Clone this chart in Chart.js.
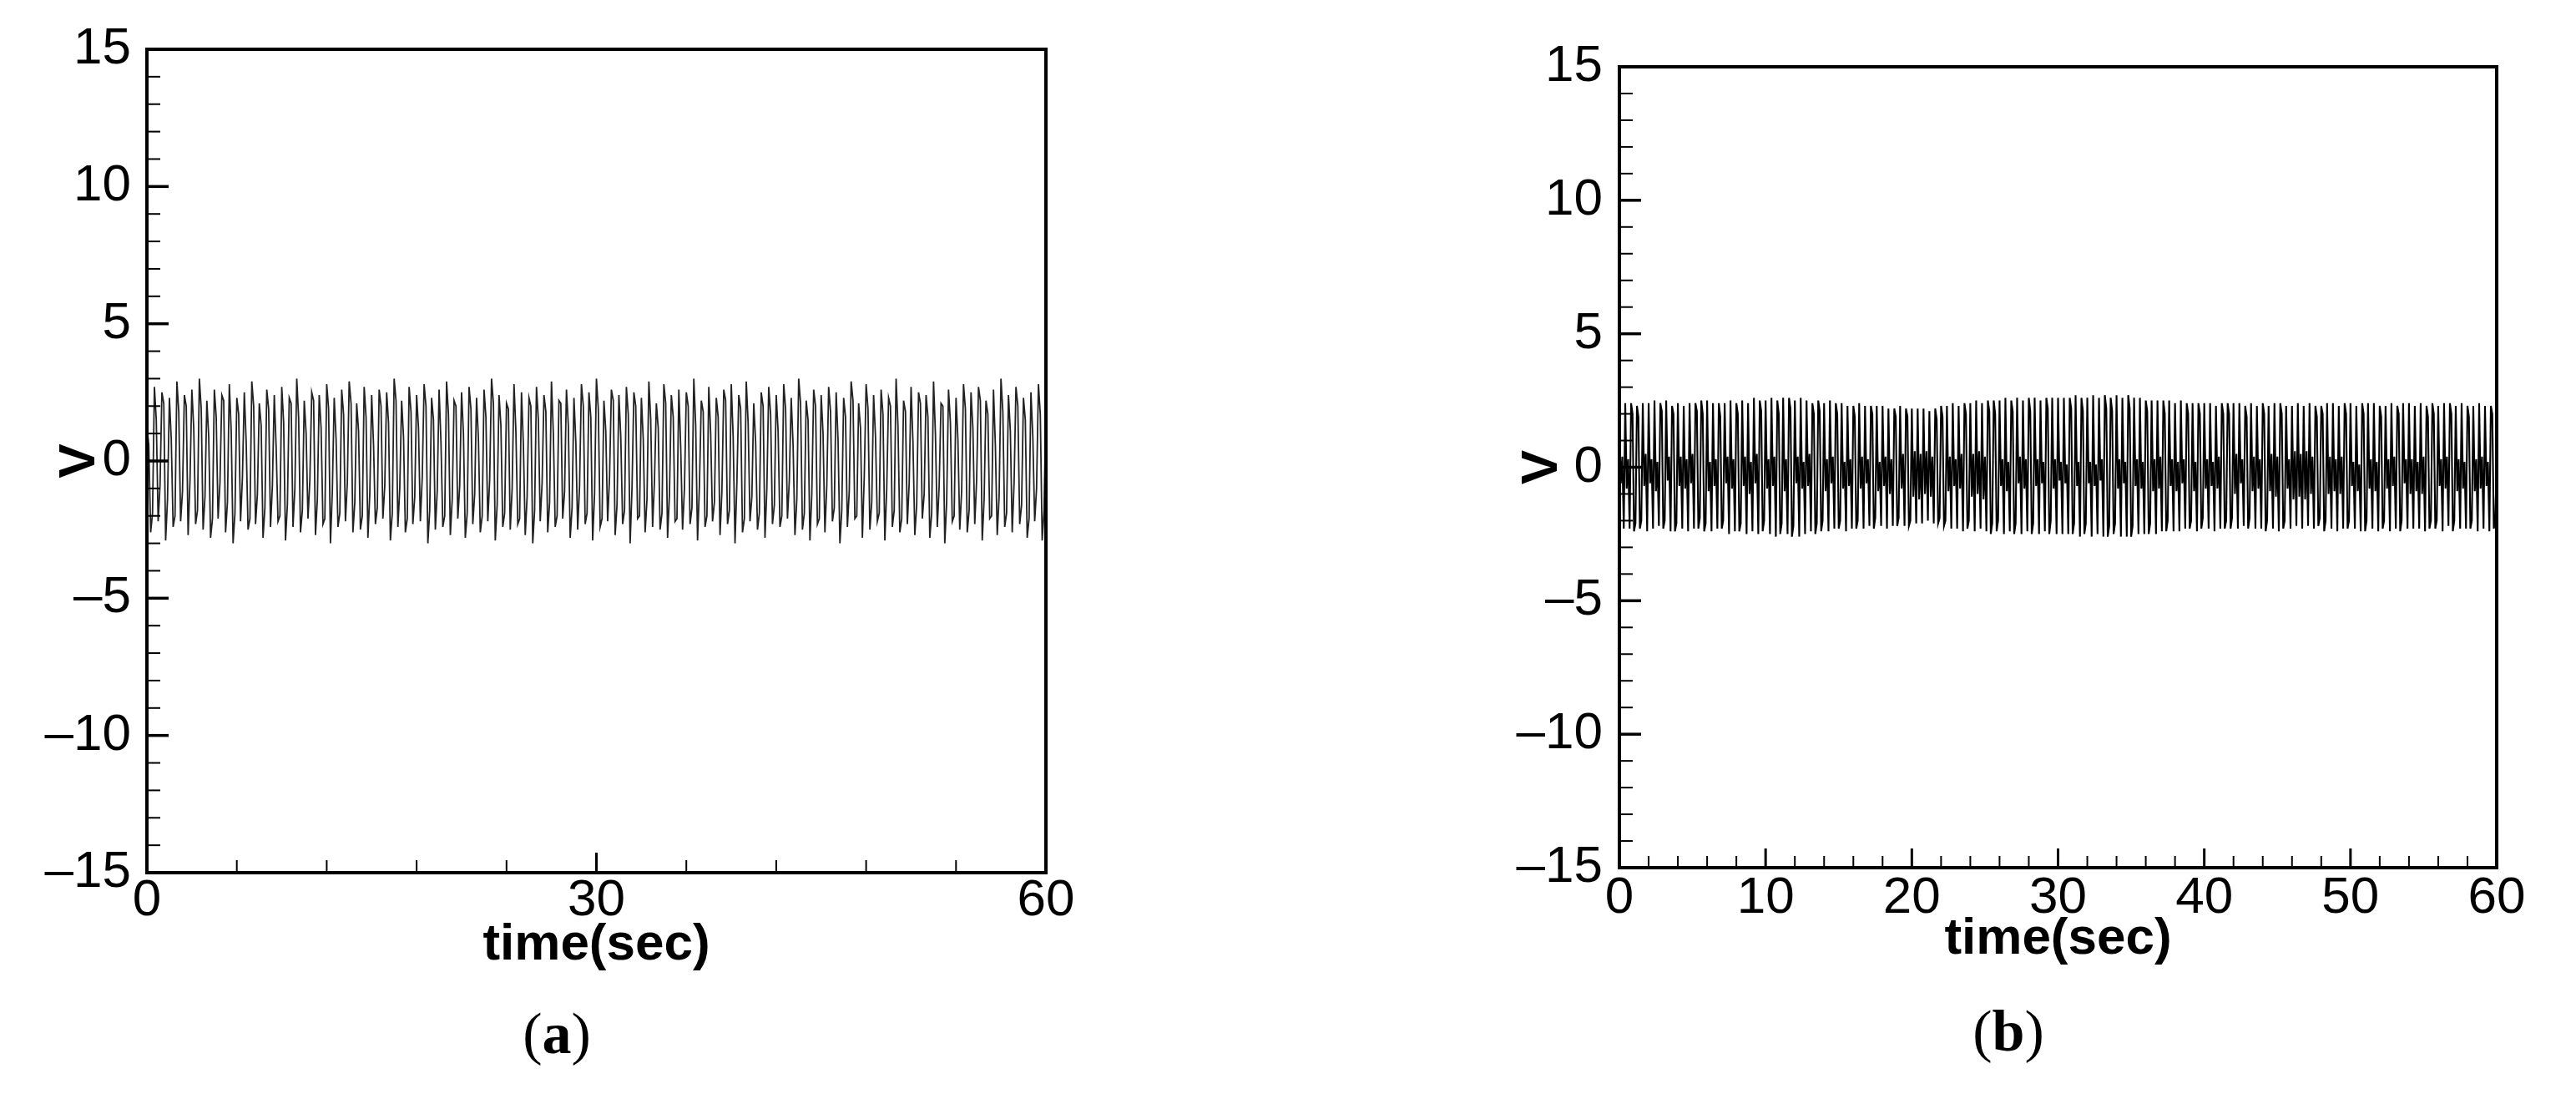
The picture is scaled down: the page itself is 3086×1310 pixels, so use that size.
<!DOCTYPE html>
<html>
<head>
<meta charset="utf-8">
<script src="https://cdn.jsdelivr.net/npm/chart.js@4.4.1/dist/chart.umd.min.js"></script>
<style>
  body { margin: 0; background: #fff; width: 3086px; height: 1310px; position: relative; overflow: hidden; }
  canvas { position: absolute; top: 0; }
  #chartA { left: 0; }
  #chartB { left: 1760px; }
  .tag { position: absolute; font-family: 'Liberation Serif', 'DejaVu Serif', serif; font-size: 70px; line-height: 70px; transform: translateX(-50%); white-space: nowrap; }
  .tag b { font-weight: bold; }
</style>
</head>
<body>
<canvas id="chartA" width="1320" height="1185"></canvas>
<canvas id="chartB" width="1326" height="1185"></canvas>
<div class="tag" style="left:667px; top:1203px;">(<b>a</b>)</div>
<div class="tag" style="left:2406px; top:1200px;">(<b>b</b>)</div>
<script>
// panel (a): sample times (s) and V
const timeA = [
  0,0.125,0.25,0.375,0.5,0.625,0.75,0.875,1,1.125,1.25,1.375,1.5,1.625,1.75,1.875,
  2,2.125,2.25,2.375,2.5,2.625,2.75,2.875,3,3.125,3.25,3.375,3.5,3.625,3.75,3.875,
  4,4.125,4.25,4.375,4.5,4.625,4.75,4.875,5,5.125,5.25,5.375,5.5,5.625,5.75,5.875,
  6,6.125,6.25,6.375,6.5,6.625,6.75,6.875,7,7.125,7.25,7.375,7.5,7.625,7.75,7.875,
  8,8.125,8.25,8.375,8.5,8.625,8.75,8.875,9,9.125,9.25,9.375,9.5,9.625,9.75,9.875,
  10,10.125,10.25,10.375,10.5,10.625,10.75,10.875,11,11.125,11.25,11.375,11.5,11.625,11.75,11.875,
  12,12.125,12.25,12.375,12.5,12.625,12.75,12.875,13,13.125,13.25,13.375,13.5,13.625,13.75,13.875,
  14,14.125,14.25,14.375,14.5,14.625,14.75,14.875,15,15.125,15.25,15.375,15.5,15.625,15.75,15.875,
  16,16.125,16.25,16.375,16.5,16.625,16.75,16.875,17,17.125,17.25,17.375,17.5,17.625,17.75,17.875,
  18,18.125,18.25,18.375,18.5,18.625,18.75,18.875,19,19.125,19.25,19.375,19.5,19.625,19.75,19.875,
  20,20.125,20.25,20.375,20.5,20.625,20.75,20.875,21,21.125,21.25,21.375,21.5,21.625,21.75,21.875,
  22,22.125,22.25,22.375,22.5,22.625,22.75,22.875,23,23.125,23.25,23.375,23.5,23.625,23.75,23.875,
  24,24.125,24.25,24.375,24.5,24.625,24.75,24.875,25,25.125,25.25,25.375,25.5,25.625,25.75,25.875,
  26,26.125,26.25,26.375,26.5,26.625,26.75,26.875,27,27.125,27.25,27.375,27.5,27.625,27.75,27.875,
  28,28.125,28.25,28.375,28.5,28.625,28.75,28.875,29,29.125,29.25,29.375,29.5,29.625,29.75,29.875,
  30,30.125,30.25,30.375,30.5,30.625,30.75,30.875,31,31.125,31.25,31.375,31.5,31.625,31.75,31.875,
  32,32.125,32.25,32.375,32.5,32.625,32.75,32.875,33,33.125,33.25,33.375,33.5,33.625,33.75,33.875,
  34,34.125,34.25,34.375,34.5,34.625,34.75,34.875,35,35.125,35.25,35.375,35.5,35.625,35.75,35.875,
  36,36.125,36.25,36.375,36.5,36.625,36.75,36.875,37,37.125,37.25,37.375,37.5,37.625,37.75,37.875,
  38,38.125,38.25,38.375,38.5,38.625,38.75,38.875,39,39.125,39.25,39.375,39.5,39.625,39.75,39.875,
  40,40.125,40.25,40.375,40.5,40.625,40.75,40.875,41,41.125,41.25,41.375,41.5,41.625,41.75,41.875,
  42,42.125,42.25,42.375,42.5,42.625,42.75,42.875,43,43.125,43.25,43.375,43.5,43.625,43.75,43.875,
  44,44.125,44.25,44.375,44.5,44.625,44.75,44.875,45,45.125,45.25,45.375,45.5,45.625,45.75,45.875,
  46,46.125,46.25,46.375,46.5,46.625,46.75,46.875,47,47.125,47.25,47.375,47.5,47.625,47.75,47.875,
  48,48.125,48.25,48.375,48.5,48.625,48.75,48.875,49,49.125,49.25,49.375,49.5,49.625,49.75,49.875,
  50,50.125,50.25,50.375,50.5,50.625,50.75,50.875,51,51.125,51.25,51.375,51.5,51.625,51.75,51.875,
  52,52.125,52.25,52.375,52.5,52.625,52.75,52.875,53,53.125,53.25,53.375,53.5,53.625,53.75,53.875,
  54,54.125,54.25,54.375,54.5,54.625,54.75,54.875,55,55.125,55.25,55.375,55.5,55.625,55.75,55.875,
  56,56.125,56.25,56.375,56.5,56.625,56.75,56.875,57,57.125,57.25,57.375,57.5,57.625,57.75,57.875,
  58,58.125,58.25,58.375,58.5,58.625,58.75,58.875,59,59.125,59.25,59.375,59.5,59.625,59.75,59.875,
  60
];
const vA = [
  1.2,0.6,-2.6,-1.9, 2.7,1.5,-2.2,-0.9, 2.5,2.1,-2.9,-1.4, 2.3,0.8,-2.4,-2.0,
  2.9,1.8,-2.2,-1.1, 2.4,2.0,-2.7,-0.7, 2.6,1.2,-2.3,-1.8, 3.0,1.9,-2.5,-1.3,
  2.2,0.9,-2.8,-2.1, 2.6,1.6,-2.1,-0.8, 2.4,2.2,-2.6,-1.5, 2.8,1.1,-3.0,-1.9,
  2.3,1.7,-2.2,-0.6, 2.5,0.7,-2.5,-2.1, 2.9,2.0,-2.3,-1.2, 2.1,1.3,-2.8,-1.7,
  2.6,1.9,-2.4,-0.9, 2.4,0.5,-2.2,-2.0, 2.7,1.4,-2.9,-1.6, 2.3,2.1,-2.4,-1.0,
  3.0,1.6,-2.6,-1.8, 2.2,1.0,-2.1,-0.7, 2.5,2.2,-2.7,-1.4, 2.4,1.2,-2.3,-2.1,
  2.8,1.9,-3.0,-1.1, 2.3,0.8,-2.4,-1.9, 2.6,1.7,-2.2,-0.8, 2.9,2.1,-2.6,-1.5,
  2.1,1.1,-2.5,-2.0, 2.7,1.6,-2.8,-1.2, 2.4,0.6,-2.3,-1.7, 2.6,2.0,-2.1,-0.9,
  2.5,1.4,-2.9,-1.9, 3.0,2.2,-2.4,-1.0, 2.2,0.9,-2.6,-2.1, 2.7,1.8,-2.3,-1.3,
  2.4,1.2,-2.2,-0.6, 2.8,2.0,-3.0,-1.8, 2.3,1.5,-2.5,-1.1, 2.6,0.7,-2.4,-2.0,
  2.9,1.7,-2.7,-1.4, 2.2,2.0,-2.1,-0.9, 2.5,1.0,-2.8,-1.9, 2.7,1.9,-2.3,-1.2,
  2.3,0.8,-2.6,-2.0, 2.6,1.6,-2.2,-0.7, 3.0,2.1,-2.9,-1.6, 2.4,1.3,-2.4,-1.9,
  2.1,1.9,-2.5,-1.0, 2.8,1.1,-2.3,-2.1, 2.5,0.6,-2.7,-1.3, 2.3,2.0,-3.0,-1.8,
  2.7,1.5,-2.2,-0.8, 2.4,1.8,-2.6,-1.5, 2.9,1.0,-2.4,-2.0, 2.2,2.1,-2.1,-1.1,
  2.6,1.3,-2.8,-1.7, 2.3,0.7,-2.5,-0.9, 2.8,2.0,-2.3,-1.9, 2.5,1.6,-2.9,-1.2,
  3.0,1.9,-2.4,-2.1, 2.2,1.1,-2.2,-0.6, 2.6,2.2,-2.7,-1.6, 2.4,0.9,-2.3,-1.8,
  2.7,1.7,-3.0,-1.0, 2.5,2.0,-2.1,-2.0, 2.3,0.8,-2.6,-1.4, 2.9,1.5,-2.4,-0.7,
  2.1,1.2,-2.5,-1.9, 2.8,2.1,-2.8,-1.2, 2.4,1.6,-2.2,-2.1, 2.6,0.5,-2.5,-1.0,
  2.5,2.0,-2.3,-1.7, 3.0,1.3,-2.9,-0.9, 2.2,1.8,-2.4,-2.0, 2.7,1.0,-2.2,-1.5,
  2.3,1.6,-2.7,-1.1, 2.6,2.2,-2.3,-1.8, 2.8,0.9,-3.0,-0.8, 2.4,1.9,-2.6,-2.1,
  2.9,1.4,-2.2,-1.3, 2.1,0.7,-2.5,-1.9, 2.5,2.0,-2.8,-1.0, 2.7,1.7,-2.3,-1.6,
  2.4,1.1,-2.4,-2.0, 2.8,1.9,-2.1,-0.7, 2.3,0.6,-2.7,-1.4, 3.0,2.1,-2.5,-1.9,
  2.2,1.5,-2.9,-1.2, 2.6,2.0,-2.3,-2.1, 2.4,1.0,-2.6,-0.9, 2.7,1.8,-2.2,-1.7,
  2.5,0.8,-3.0,-1.8, 2.3,1.6,-2.4,-1.1, 2.9,2.2,-2.1,-2.0, 2.1,1.2,-2.8,-0.6,
  2.8,1.9,-2.5,-1.5, 2.4,0.9,-2.2,-1.9, 2.6,1.7,-2.9,-1.0, 2.3,2.0,-2.4,-1.8,
  3.0,1.3,-2.6,-2.1, 2.2,1.8,-2.3,-0.8, 2.7,0.7,-2.7,-1.6, 2.5,2.1,-2.1,-1.2,
  2.4,1.6,-2.8,-1.9, 2.9,1.0,-2.4,-0.9, 2.1,2.0,-3.0,-1.5, 2.6,1.4,-2.2,-2.0,
  2.3,0.8,-2.5,-1.1, 2.8,1.9,-2.6,-1.8, 2.5,1.2,-2.3,-0.7, 2.7,2.2,-2.9,-1.4,
  2.2,1.7,-2.1,-2.0, 2.6,0.6,-2.7,-1.3, 3.0,1.8,-2.4,-1.9, 2.4,1.1,-2.6,-0.8,
  2.7,2.0,-2.3,-1.6, 2.3,1.5,-2.8,-2.1, 2.5,0.9,-2.2,-1.0, 2.8,1.7,-2.9,-1.8,
  2.0
];

// panel (b): sample times (s) and V
const timeB = [
  0,0.1,0.2,0.3,0.4,0.5,0.6,0.7,0.8,0.9,1,1.1,1.2,1.3,1.4,1.5,1.6,1.7,1.8,1.9,
  2,2.1,2.2,2.3,2.4,2.5,2.6,2.7,2.8,2.9,3,3.1,3.2,3.3,3.4,3.5,3.6,3.7,3.8,3.9,
  4,4.1,4.2,4.3,4.4,4.5,4.6,4.7,4.8,4.9,5,5.1,5.2,5.3,5.4,5.5,5.6,5.7,5.8,5.9,
  6,6.1,6.2,6.3,6.4,6.5,6.6,6.7,6.8,6.9,7,7.1,7.2,7.3,7.4,7.5,7.6,7.7,7.8,7.9,
  8,8.1,8.2,8.3,8.4,8.5,8.6,8.7,8.8,8.9,9,9.1,9.2,9.3,9.4,9.5,9.6,9.7,9.8,9.9,
  10,10.1,10.2,10.3,10.4,10.5,10.6,10.7,10.8,10.9,11,11.1,11.2,11.3,11.4,11.5,11.6,11.7,11.8,11.9,
  12,12.1,12.2,12.3,12.4,12.5,12.6,12.7,12.8,12.9,13,13.1,13.2,13.3,13.4,13.5,13.6,13.7,13.8,13.9,
  14,14.1,14.2,14.3,14.4,14.5,14.6,14.7,14.8,14.9,15,15.1,15.2,15.3,15.4,15.5,15.6,15.7,15.8,15.9,
  16,16.1,16.2,16.3,16.4,16.5,16.6,16.7,16.8,16.9,17,17.1,17.2,17.3,17.4,17.5,17.6,17.7,17.8,17.9,
  18,18.1,18.2,18.3,18.4,18.5,18.6,18.7,18.8,18.9,19,19.1,19.2,19.3,19.4,19.5,19.6,19.7,19.8,19.9,
  20,20.1,20.2,20.3,20.4,20.5,20.6,20.7,20.8,20.9,21,21.1,21.2,21.3,21.4,21.5,21.6,21.7,21.8,21.9,
  22,22.1,22.2,22.3,22.4,22.5,22.6,22.7,22.8,22.9,23,23.1,23.2,23.3,23.4,23.5,23.6,23.7,23.8,23.9,
  24,24.1,24.2,24.3,24.4,24.5,24.6,24.7,24.8,24.9,25,25.1,25.2,25.3,25.4,25.5,25.6,25.7,25.8,25.9,
  26,26.1,26.2,26.3,26.4,26.5,26.6,26.7,26.8,26.9,27,27.1,27.2,27.3,27.4,27.5,27.6,27.7,27.8,27.9,
  28,28.1,28.2,28.3,28.4,28.5,28.6,28.7,28.8,28.9,29,29.1,29.2,29.3,29.4,29.5,29.6,29.7,29.8,29.9,
  30,30.1,30.2,30.3,30.4,30.5,30.6,30.7,30.8,30.9,31,31.1,31.2,31.3,31.4,31.5,31.6,31.7,31.8,31.9,
  32,32.1,32.2,32.3,32.4,32.5,32.6,32.7,32.8,32.9,33,33.1,33.2,33.3,33.4,33.5,33.6,33.7,33.8,33.9,
  34,34.1,34.2,34.3,34.4,34.5,34.6,34.7,34.8,34.9,35,35.1,35.2,35.3,35.4,35.5,35.6,35.7,35.8,35.9,
  36,36.1,36.2,36.3,36.4,36.5,36.6,36.7,36.8,36.9,37,37.1,37.2,37.3,37.4,37.5,37.6,37.7,37.8,37.9,
  38,38.1,38.2,38.3,38.4,38.5,38.6,38.7,38.8,38.9,39,39.1,39.2,39.3,39.4,39.5,39.6,39.7,39.8,39.9,
  40,40.1,40.2,40.3,40.4,40.5,40.6,40.7,40.8,40.9,41,41.1,41.2,41.3,41.4,41.5,41.6,41.7,41.8,41.9,
  42,42.1,42.2,42.3,42.4,42.5,42.6,42.7,42.8,42.9,43,43.1,43.2,43.3,43.4,43.5,43.6,43.7,43.8,43.9,
  44,44.1,44.2,44.3,44.4,44.5,44.6,44.7,44.8,44.9,45,45.1,45.2,45.3,45.4,45.5,45.6,45.7,45.8,45.9,
  46,46.1,46.2,46.3,46.4,46.5,46.6,46.7,46.8,46.9,47,47.1,47.2,47.3,47.4,47.5,47.6,47.7,47.8,47.9,
  48,48.1,48.2,48.3,48.4,48.5,48.6,48.7,48.8,48.9,49,49.1,49.2,49.3,49.4,49.5,49.6,49.7,49.8,49.9,
  50,50.1,50.2,50.3,50.4,50.5,50.6,50.7,50.8,50.9,51,51.1,51.2,51.3,51.4,51.5,51.6,51.7,51.8,51.9,
  52,52.1,52.2,52.3,52.4,52.5,52.6,52.7,52.8,52.9,53,53.1,53.2,53.3,53.4,53.5,53.6,53.7,53.8,53.9,
  54,54.1,54.2,54.3,54.4,54.5,54.6,54.7,54.8,54.9,55,55.1,55.2,55.3,55.4,55.5,55.6,55.7,55.8,55.9,
  56,56.1,56.2,56.3,56.4,56.5,56.6,56.7,56.8,56.9,57,57.1,57.2,57.3,57.4,57.5,57.6,57.7,57.8,57.9,
  58,58.1,58.2,58.3,58.4,58.5,58.6,58.7,58.8,58.9,59,59.1,59.2,59.3,59.4,59.5,59.6,59.7,59.8,59.9,
  60
];
const vB = [
  1.3,-0.6,0.4,-2.3, 2.4,-0.8,0.3,-2.3, 2.4,2.0,-2.4,-2.1, 2.3,1.9,-2.3,-2.0, 2.4,-0.7,0.5,-2.4,
  2.4,-0.6,0.3,-2.3, 2.5,-0.9,0.2,-2.2, 2.4,2.1,-2.3,-2.0, 2.5,-0.5,0.4,-2.4, 2.3,2.0,-2.4,-2.1,
  2.4,-0.7,0.4,-2.3, 2.3,-0.8,0.3,-2.4, 2.4,-0.6,0.5,-2.3, 2.4,2.1,-2.3,-1.9, 2.5,2.0,-2.4,-2.1,
  2.5,-0.9,0.2,-2.4, 2.4,-0.7,0.3,-2.3, 2.4,1.9,-2.3,-2.0, 2.4,-0.6,0.4,-2.5, 2.5,-0.8,0.3,-2.4,
  2.4,2.0,-2.4,-2.1, 2.5,-0.7,0.4,-2.5, 2.4,-1.0,0.2,-2.4, 2.6,-0.6,0.5,-2.5, 2.5,2.1,-2.4,-2.0,
  2.5,-0.8,0.3,-2.5, 2.6,-0.7,0.4,-2.6, 2.5,2.0,-2.5,-2.1, 2.6,-0.9,0.3,-2.5, 2.6,2.2,-2.6,-2.2,
  2.5,-0.6,0.4,-2.6, 2.6,-0.8,0.2,-2.5, 2.5,-0.7,0.5,-2.4, 2.4,2.0,-2.5,-2.1, 2.5,2.1,-2.4,-2.0,
  2.4,-0.9,0.3,-2.4, 2.5,-0.6,0.4,-2.3, 2.4,2.0,-2.3,-2.0, 2.4,-0.8,0.2,-2.4, 2.3,-0.7,0.3,-2.3,
  2.3,1.9,-2.3,-2.0, 2.4,-0.8,0.4,-2.3, 2.3,-0.6,0.3,-2.2, 2.3,2.0,-2.3,-1.9, 2.3,-0.9,0.2,-2.2,
  2.3,-0.7,0.4,-2.3, 2.2,-1.0,0.3,-2.2, 2.2,1.9,-2.2,-1.9, 2.3,-0.8,0.5,-2.2, 2.2,1.9,-2.2,-2.0,
  2.2,-1.1,0.6,-2.1, 2.2,-1.2,0.5,-2.1, 2.2,-1.0,0.6,-2.0, 2.1,-1.1,0.4,-2.1, 2.2,1.8,-2.1,-1.9,
  2.3,1.9,-2.2,-2.0, 2.3,-0.9,0.4,-2.3, 2.4,-0.7,0.3,-2.3, 2.3,-0.8,0.5,-2.4, 2.4,2.0,-2.3,-2.0,
  2.4,-1.1,0.5,-2.4, 2.5,-1.0,0.6,-2.3, 2.4,-1.2,0.4,-2.4, 2.5,2.1,-2.5,-2.1, 2.5,2.0,-2.4,-2.0,
  2.5,-0.7,0.3,-2.5, 2.6,-0.9,0.2,-2.4, 2.5,2.1,-2.5,-2.1, 2.6,-0.6,0.4,-2.5, 2.5,-0.8,0.3,-2.4,
  2.6,2.1,-2.5,-2.1, 2.6,-0.7,0.3,-2.5, 2.5,-0.6,0.2,-2.4, 2.6,2.2,-2.5,-2.0, 2.6,-0.8,0.3,-2.5,
  2.6,-0.5,0.2,-2.5, 2.6,-0.6,0.1,-2.5, 2.6,2.2,-2.5,-2.1, 2.7,-0.7,0.2,-2.6, 2.6,2.1,-2.5,-2.1,
  2.6,-0.6,0.2,-2.6, 2.7,-0.7,0.1,-2.5, 2.6,-0.5,0.3,-2.6, 2.7,2.2,-2.6,-2.2, 2.6,2.1,-2.5,-2.1,
  2.7,-0.8,0.3,-2.6, 2.6,-0.6,0.2,-2.6, 2.7,2.2,-2.6,-2.2, 2.6,-0.7,0.3,-2.5, 2.6,-0.8,0.2,-2.5,
  2.5,2.1,-2.5,-2.1, 2.5,-0.9,0.3,-2.5, 2.5,-0.8,0.4,-2.4, 2.5,2.0,-2.4,-2.0, 2.5,-0.7,0.3,-2.4,
  2.4,-0.9,0.2,-2.4, 2.5,-0.6,0.3,-2.3, 2.4,2.0,-2.3,-2.0, 2.4,-0.9,0.2,-2.4, 2.4,2.0,-2.3,-1.9,
  2.4,-0.8,0.3,-2.3, 2.4,-0.7,0.2,-2.4, 2.3,-0.8,0.4,-2.3, 2.4,2.0,-2.3,-2.0, 2.4,2.0,-2.3,-1.9,
  2.4,-1.0,0.5,-2.3, 2.4,-0.6,0.3,-2.2, 2.3,1.9,-2.3,-1.9, 2.4,-0.9,0.4,-2.3, 2.3,-0.8,0.3,-2.3,
  2.4,2.0,-2.4,-2.0, 2.3,-0.9,0.5,-2.3, 2.4,-1.1,0.4,-2.4, 2.4,2.0,-2.3,-2.0, 2.3,-0.8,0.3,-2.3,
  2.3,-1.2,0.6,-2.2, 2.4,-1.1,0.5,-2.3, 2.3,-1.2,0.6,-2.2, 2.4,-1.0,0.4,-2.3, 2.3,1.9,-2.2,-1.9,
  2.3,2.0,-2.4,-2.0, 2.4,-1.0,0.4,-2.3, 2.4,-0.9,0.3,-2.4, 2.3,-1.0,0.4,-2.3, 2.4,2.0,-2.3,-2.0,
  2.4,-0.7,0.2,-2.3, 2.3,-0.9,0.1,-2.4, 2.4,2.0,-2.4,-2.0, 2.4,-0.8,0.3,-2.3, 2.4,-0.9,0.2,-2.4,
  2.3,1.9,-2.3,-2.0, 2.3,-0.8,0.3,-2.4, 2.4,-0.7,0.4,-2.3, 2.3,2.0,-2.4,-2.0, 2.4,-0.6,0.3,-2.3,
  2.4,-1.0,0.3,-2.3, 2.3,-0.9,0.2,-2.3, 2.4,-1.0,0.4,-2.4, 2.3,1.9,-2.3,-2.0, 2.4,2.0,-2.3,-2.0,
  2.3,-0.7,0.3,-2.4, 2.4,-0.8,0.4,-2.2, 2.4,2.0,-2.4,-2.0, 2.3,-0.9,0.3,-2.3, 2.4,-0.8,0.2,-2.3,
  2.3,1.9,-2.3,-2.0, 2.3,-0.9,0.3,-2.4, 2.4,-0.8,0.4,-2.3, 2.3,-0.7,0.2,-2.4, 2.3,2.0,-2.3,-2.0,
  0.3
];

// axis ticks
const yMajor = [-15, -10, -5, 0, 5, 10, 15];
const yMinor = [-14,-13,-12,-11,-9,-8,-7,-6,-4,-3,-2,-1,1,2,3,4,6,7,8,9,11,12,13,14];
const xMajorA = [0, 30, 60];
const xMinorA = [6, 12, 18, 24, 36, 42, 48, 54];
const xMajorB = [0, 10, 20, 30, 40, 50, 60];
const xMinorB = [2,4,6,8,12,14,16,18,22,24,26,28,32,34,36,38,42,44,46,48,52,54,56,58];

const tickFont = { family: "'Liberation Sans Narrow', 'Liberation Sans', Arial, sans-serif", size: 62, lineHeight: 1 };
const titleFont = { family: "'Liberation Sans', Arial, sans-serif", size: 62, weight: 'bold', lineHeight: 1 };

// frame box + inward tick marks, placed with the chart's own scales
const frameTicks = {
  id: 'frameTicks',
  afterDatasetsDraw(chart, args, o) {
    const { ctx, chartArea: a, scales: { x, y } } = chart;
    ctx.save();
    ctx.strokeStyle = '#000';
    const mark = (vals, len, w, horiz) => {
      ctx.lineWidth = w;
      vals.forEach(v => {
        ctx.beginPath();
        if (horiz) {
          const px = x.getPixelForValue(v);
          ctx.moveTo(px, a.bottom);
          ctx.lineTo(px, a.bottom - len);
        } else {
          const py = y.getPixelForValue(v);
          ctx.moveTo(a.left, py);
          ctx.lineTo(a.left + len, py);
        }
        ctx.stroke();
      });
    };
    mark(o.xMinor, o.xMinorLen, 2, true);
    mark(o.xMajor, o.xMajorLen, 3, true);
    mark(yMinor, 16, 2, false);
    mark(yMajor, 26, 3.5, false);
    ctx.lineWidth = 4;
    ctx.strokeRect(a.left, a.top, a.right - a.left, a.bottom - a.top);
    ctx.restore();
  }
};

function fmt(v) {
  return v < 0 ? '\u2013' + Math.abs(v) : String(v);
}

function drawPanel(id, times, values, p) {
  new Chart(document.getElementById(id), {
    type: 'line',
    data: {
      datasets: [{
        data: times.map((t, i) => ({ x: t, y: values[i] })),
        borderColor: p.lineColor,
        borderWidth: p.lineWidth,
        pointRadius: 0,
        tension: 0,
        fill: false
      }]
    },
    options: {
      responsive: false,
      animation: false,
      events: [],
      layout: { padding: { left: 0, top: p.top, right: p.right, bottom: 0 } },
      plugins: {
        legend: { display: false },
        tooltip: { enabled: false },
        frameTicks: p.ticks
      },
      scales: {
        x: {
          type: 'linear',
          min: 0,
          max: 60,
          grid: { display: false, drawTicks: false },
          border: { display: false },
          afterBuildTicks: s => { s.ticks = p.ticks.xMajor.map(v => ({ value: v })); },
          afterFit: s => { s.height = p.xHeight; },
          ticks: { color: '#000', font: tickFont, padding: p.xPad, maxRotation: 0, autoSkip: false },
          title: { display: true, text: 'time(sec)', color: '#000', font: titleFont, padding: { top: 0, bottom: p.xTitlePad } }
        },
        y: {
          min: -15,
          max: 15,
          grid: { display: false, drawTicks: false },
          border: { display: false },
          afterBuildTicks: s => { s.ticks = yMajor.map(v => ({ value: v })); },
          afterFit: s => { s.width = p.yWidth; },
          ticks: { color: '#000', font: tickFont, padding: p.yPad, callback: v => fmt(v) },
          title: { display: true, text: 'V', color: '#000', font: titleFont, padding: { top: p.yTitlePad, bottom: 0 } }
        }
      }
    },
    plugins: [frameTicks]
  });
}

drawPanel('chartA', timeA, vA, {
  top: 59, right: 67, yWidth: 176, xHeight: 140,
  xPad: 3, yPad: 19, xTitlePad: 22, yTitlePad: 65, lineWidth: 1.8, lineColor: '#222',
  ticks: { xMajor: xMajorA, xMinor: xMinorA, xMajorLen: 24, xMinorLen: 15 }
});

drawPanel('chartB', timeB, vB, {
  top: 80, right: 95, yWidth: 180, xHeight: 146,
  xPad: 6, yPad: 20, xTitlePad: 29, yTitlePad: 57, lineWidth: 2.1, lineColor: '#000',
  ticks: { xMajor: xMajorB, xMinor: xMinorB, xMajorLen: 23, xMinorLen: 14 }
});
</script>
</body>
</html>
